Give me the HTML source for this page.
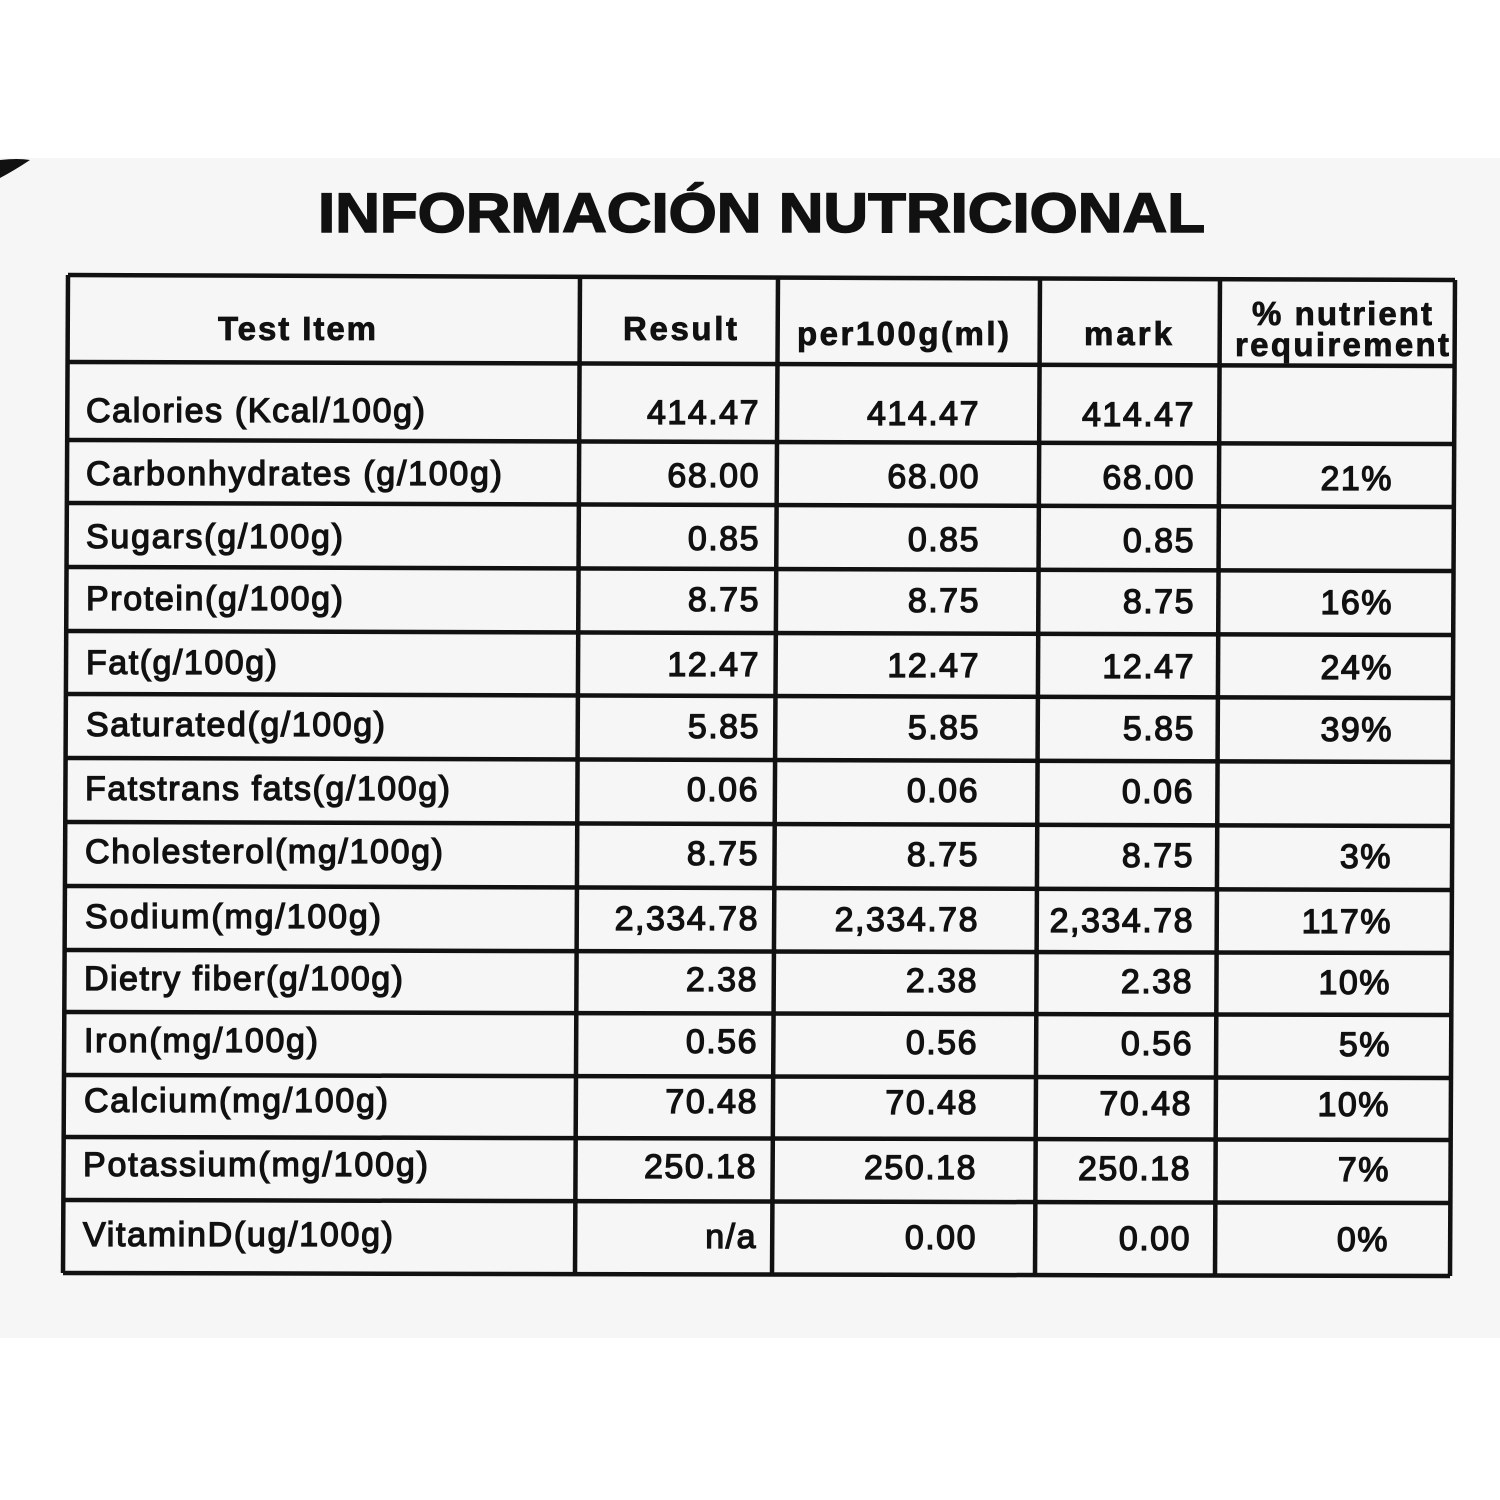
<!DOCTYPE html>
<html><head><meta charset="utf-8"><style>
html,body{margin:0;padding:0;background:#fff;width:1500px;height:1500px;overflow:hidden}
</style></head><body>
<svg width="1500" height="1500" viewBox="0 0 1500 1500" xmlns="http://www.w3.org/2000/svg">
<rect x="0" y="0" width="1500" height="1500" fill="#fff"/>
<rect x="0" y="158" width="1500" height="1180" fill="#f6f6f6"/>
<path d="M0 160 Q18 158 30 160 Q15 170 0 178 Z" fill="#111"/>
<text x="318" y="232" font-family="Liberation Sans, sans-serif" font-weight="bold" font-size="56" fill="#111" stroke="#111" stroke-width="1.5" textLength="887" lengthAdjust="spacingAndGlyphs">INFORMACIÓN NUTRICIONAL</text>
<g stroke="#111" stroke-width="4.5" fill="none">
<line x1="68" y1="275" x2="1455" y2="280"/>
<line x1="68" y1="362" x2="1455" y2="366"/>
<line x1="68" y1="440" x2="1455" y2="444"/>
<line x1="67" y1="503" x2="1454" y2="507"/>
<line x1="67" y1="567" x2="1454" y2="571"/>
<line x1="67" y1="631" x2="1454" y2="635"/>
<line x1="66" y1="694" x2="1453" y2="698"/>
<line x1="66" y1="758" x2="1453" y2="762"/>
<line x1="66" y1="822" x2="1453" y2="826"/>
<line x1="65" y1="886" x2="1452" y2="890"/>
<line x1="65" y1="950" x2="1452" y2="953"/>
<line x1="65" y1="1012" x2="1452" y2="1015"/>
<line x1="64" y1="1075" x2="1451" y2="1078"/>
<line x1="64" y1="1137" x2="1451" y2="1140"/>
<line x1="64" y1="1200" x2="1450" y2="1203"/>
<line x1="63" y1="1273" x2="1450" y2="1276"/>
<line x1="68" y1="275" x2="63" y2="1273"/>
<line x1="580" y1="277" x2="575" y2="1274"/>
<line x1="778" y1="277" x2="772" y2="1274"/>
<line x1="1040" y1="278" x2="1035" y2="1275"/>
<line x1="1220" y1="279" x2="1215" y2="1275"/>
<line x1="1455" y1="280" x2="1450" y2="1276"/>
</g>
<g font-family="Liberation Sans, sans-serif" font-size="33" font-weight="bold" fill="#111" stroke="#111" stroke-width="0.8" text-anchor="middle" lengthAdjust="spacingAndGlyphs">
<text x="297" y="340" textLength="158">Test Item</text>
<text x="680" y="340" textLength="114">Result</text>
<text x="903" y="345" textLength="212">per100g(ml)</text>
<text x="1128" y="345" textLength="88">mark</text>
<text x="1342" y="325" textLength="180">% nutrient</text>
<text x="1342" y="356" textLength="214">requirement</text>
</g>
<g font-family="Liberation Sans, sans-serif" font-size="34" fill="#111" stroke="#111" stroke-width="1.3" lengthAdjust="spacingAndGlyphs">
<text x="86" y="422" textLength="339">Calories (Kcal/100g)</text>
<text x="86" y="485" textLength="416">Carbonhydrates (g/100g)</text>
<text x="86" y="548" textLength="257">Sugars(g/100g)</text>
<text x="86" y="610" textLength="257">Protein(g/100g)</text>
<text x="86" y="674" textLength="191">Fat(g/100g)</text>
<text x="86" y="736" textLength="299">Saturated(g/100g)</text>
<text x="85" y="800" textLength="365">Fatstrans fats(g/100g)</text>
<text x="85" y="863" textLength="358">Cholesterol(mg/100g)</text>
<text x="85" y="928" textLength="296">Sodium(mg/100g)</text>
<text x="84" y="990" textLength="319">Dietry fiber(g/100g)</text>
<text x="84" y="1052" textLength="234">Iron(mg/100g)</text>
<text x="84" y="1112" textLength="304">Calcium(mg/100g)</text>
<text x="83" y="1176" textLength="345">Potassium(mg/100g)</text>
<text x="83" y="1246" textLength="310">VitaminD(ug/100g)</text>
</g>
<g font-family="Liberation Sans, sans-serif" font-size="34" fill="#111" stroke="#111" stroke-width="1.3" text-anchor="end" letter-spacing="1.5">
<text x="760" y="424">414.47</text><text x="980" y="425">414.47</text><text x="1195" y="426">414.47</text>
<text x="760" y="487">68.00</text><text x="980" y="488">68.00</text><text x="1195" y="489">68.00</text><text x="1393" y="490">21%</text>
<text x="760" y="550">0.85</text><text x="980" y="551">0.85</text><text x="1195" y="552">0.85</text>
<text x="760" y="611">8.75</text><text x="980" y="612">8.75</text><text x="1195" y="613">8.75</text><text x="1393" y="614">16%</text>
<text x="760" y="676">12.47</text><text x="980" y="677">12.47</text><text x="1195" y="678">12.47</text><text x="1393" y="679">24%</text>
<text x="760" y="738">5.85</text><text x="980" y="739">5.85</text><text x="1195" y="740">5.85</text><text x="1393" y="741">39%</text>
<text x="759" y="801">0.06</text><text x="979" y="802">0.06</text><text x="1194" y="803">0.06</text>
<text x="759" y="865">8.75</text><text x="979" y="866">8.75</text><text x="1194" y="867">8.75</text><text x="1392" y="868">3%</text>
<text x="759" y="930">2,334.78</text><text x="979" y="931">2,334.78</text><text x="1194" y="932">2,334.78</text><text x="1392" y="933">117%</text>
<text x="758" y="991">2.38</text><text x="978" y="992">2.38</text><text x="1193" y="993">2.38</text><text x="1391" y="994">10%</text>
<text x="758" y="1053">0.56</text><text x="978" y="1054">0.56</text><text x="1193" y="1055">0.56</text><text x="1391" y="1056">5%</text>
<text x="758" y="1113">70.48</text><text x="978" y="1114">70.48</text><text x="1192" y="1115">70.48</text><text x="1390" y="1116">10%</text>
<text x="757" y="1178">250.18</text><text x="977" y="1179">250.18</text><text x="1191" y="1180">250.18</text><text x="1390" y="1181">7%</text>
<text x="757" y="1248">n/a</text><text x="977" y="1249">0.00</text><text x="1191" y="1250">0.00</text><text x="1389" y="1251">0%</text>
</g>
</svg>
</body></html>
